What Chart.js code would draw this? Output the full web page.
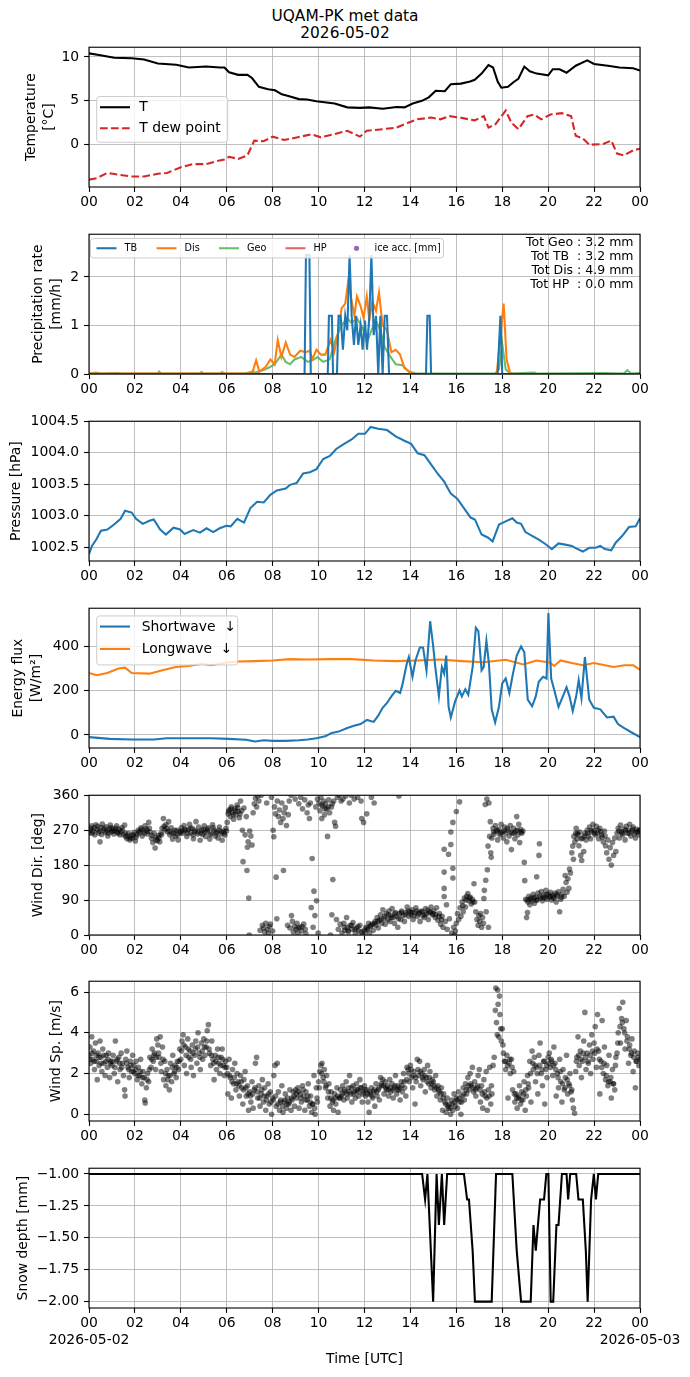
<!DOCTYPE html>
<html>
<head>
<meta charset="utf-8">
<script src="https://cdn.jsdelivr.net/npm/chart.js@4.4.1/dist/chart.umd.min.js"></script>
<style>
  body { margin: 0; background: #fff; width: 690px; height: 1377px; position: relative; overflow: hidden; font-family: 'DejaVu Sans', sans-serif; }
  #title { position: absolute; left: 0; top: 8px; width: 690px; text-align: center; font-size: 15.4px; line-height: 16.5px; color: #000; }
</style>
</head>
<body>
<div id="title">UQAM-PK met data<br>2026-05-02</div>
<script>
// hour of day (UTC) vs value
const hourTicks = [0, 2, 4, 6, 8, 10, 12, 14, 16, 18, 20, 22, 24];
const dayLabels = ['2026-05-02', '2026-05-03'];

const tempT = [[0,10.4],[0.5,10.2],[1.1,9.9],[1.86,9.85],[2.4,9.7],[3.0,9.26],[3.8,9.1],[4.35,8.8],[5.1,8.9],[5.7,8.8],[5.9,8.8],[6.1,8.26],[6.5,7.96],[6.9,7.96],[7.1,7.6],[7.4,6.6],[7.8,6.33],[8.1,6.2],[8.4,5.74],[8.76,5.5],[9.14,5.2],[9.5,5.15],[9.9,4.96],[10.7,4.7],[11.25,4.26],[11.8,4.2],[12.2,4.26],[12.8,4.1],[13.4,4.3],[13.74,4.26],[14.1,4.7],[14.5,5.0],[14.8,5.4],[15.1,6.15],[15.5,6.1],[15.76,6.9],[16.2,6.96],[16.6,7.2],[16.8,7.4],[17.1,8.1],[17.4,9.07],[17.6,8.8],[17.8,7.2],[17.96,6.5],[18.25,6.6],[18.5,7.15],[18.7,7.5],[18.96,8.9],[19.2,8.37],[19.5,8.1],[20.0,7.9],[20.2,8.6],[20.5,8.6],[20.8,8.2],[21.2,9.0],[21.7,9.6],[22.0,9.2],[22.6,9.0],[23.1,8.8],[23.7,8.7],[24,8.44]];
const tempTd = [[0,-3.96],[0.33,-3.8],[0.8,-3.2],[1.3,-3.4],[1.86,-3.6],[2.4,-3.6],[3.0,-3.3],[3.4,-3.2],[4.0,-2.55],[4.5,-2.2],[5.1,-2.2],[5.5,-1.9],[5.9,-1.67],[6.1,-1.37],[6.5,-1.6],[6.9,-1.2],[7.2,0.48],[7.6,0.4],[8.0,0.93],[8.5,0.55],[8.95,0.78],[9.7,1.2],[10.1,0.85],[10.7,1.22],[11.25,1.6],[11.8,0.93],[12.1,1.6],[12.8,1.78],[13.4,1.96],[13.74,2.33],[14.3,2.9],[14.9,3.1],[15.3,2.9],[15.7,3.26],[16.2,3.07],[16.8,2.78],[17.2,3.26],[17.4,1.96],[17.7,2.33],[18.15,3.9],[18.4,2.5],[18.7,1.78],[19.1,3.26],[19.4,3.44],[19.7,2.9],[20.1,3.44],[20.6,3.6],[21.0,3.26],[21.2,1.04],[21.5,0.74],[21.8,0],[22.4,0.1],[22.75,0.48],[23.0,-1.0],[23.3,-1.2],[23.7,-0.63],[24,-0.44]];

const precipTB = [[0,0],[9.39,0],[9.45,2.45],[9.6,2.45],[9.66,0],[10.4,0],[10.45,1.2],[10.58,1.2],[10.63,0],[10.8,0],[10.87,1.2],[10.96,1.2],[11.06,0.5],[11.16,1.2],[11.25,0.9],[11.35,2.45],[11.44,1.2],[11.54,0.6],[11.63,1.2],[11.73,0.6],[11.83,1.0],[11.92,0.5],[12.02,1.1],[12.11,0.5],[12.21,1.2],[12.3,2.45],[12.4,0.8],[12.5,1.2],[12.6,0],[12.69,1.2],[12.79,0],[12.88,1.2],[12.98,1.2],[13.07,0],[14.68,0],[14.74,1.2],[14.84,1.2],[14.9,0],[17.8,0],[17.92,1.2],[18.0,0],[24,0]];
const precipDis = [[0,0.01],[7.0,0.01],[7.13,0.05],[7.28,0.28],[7.42,0.05],[7.7,0.15],[7.9,0.3],[8.09,0.2],[8.22,0.7],[8.38,0.35],[8.57,0.65],[8.76,0.4],[8.95,0.35],[9.2,0.48],[9.43,0.45],[9.62,0.48],[9.72,0.3],[9.91,0.5],[10.1,0.4],[10.29,0.4],[10.52,0.7],[10.68,0.45],[10.87,0.9],[11.0,1.35],[11.16,1.45],[11.29,1.9],[11.44,1.5],[11.56,1.2],[11.67,1.6],[11.83,1.4],[11.96,1.15],[12.1,1.6],[12.21,1.1],[12.34,1.5],[12.5,1.3],[12.63,1.68],[12.79,1.0],[12.98,0.9],[13.17,0.45],[13.36,0.5],[13.55,0.4],[13.74,0.12],[14.03,0.02],[14.22,0.0],[17.7,0.0],[17.77,0.05],[17.92,0.8],[18.06,1.45],[18.19,0.3],[18.34,0.02],[18.5,0.0],[24,0.0]];
const precipGeo = [[0,0.01],[0.3,0.03],[0.5,0.01],[1.2,0.02],[1.4,0.01],[3.0,0.01],[3.05,0.05],[3.15,0.01],[4.8,0.01],[4.9,0.04],[5.0,0.01],[5.7,0.01],[5.8,0.04],[5.9,0.01],[6.8,0.01],[7.1,0.05],[7.25,0.03],[7.42,0.05],[7.7,0.1],[7.9,0.15],[8.09,0.2],[8.38,0.4],[8.57,0.25],[8.76,0.2],[8.95,0.3],[9.24,0.35],[9.53,0.25],[9.81,0.3],[9.95,0.35],[10.2,0.25],[10.48,0.3],[10.77,0.75],[11.0,1.0],[11.25,1.15],[11.44,1.05],[11.67,1.15],[11.92,0.95],[12.11,0.65],[12.3,0.9],[12.5,1.1],[12.69,0.9],[12.88,0.55],[13.07,0.4],[13.36,0.2],[13.65,0.18],[13.93,0.05],[14.22,0.01],[17.7,0.01],[17.86,0.1],[18.0,0.62],[18.15,0.1],[18.34,0.01],[19.4,0.03],[19.5,0.01],[22.4,0.02],[23.3,0.01],[23.45,0.08],[23.6,0.01],[24,0.02]];
const precipHP = [[0,0],[24,0]];
const precipIce = [];
const precipTotals = ['Tot Geo : 3.2 mm', 'Tot TB  : 3.2 mm', 'Tot Dis : 4.9 mm', 'Tot HP  : 0.0 mm'];

const pressure = [[0,1002.39],[0.13,1002.52],[0.33,1002.63],[0.52,1002.76],[0.8,1002.78],[1.09,1002.86],[1.38,1002.95],[1.57,1003.08],[1.86,1003.05],[2.05,1002.95],[2.34,1002.87],[2.63,1002.92],[2.82,1002.94],[3.1,1002.78],[3.35,1002.70],[3.68,1002.81],[3.97,1002.78],[4.16,1002.71],[4.54,1002.77],[4.83,1002.73],[5.12,1002.80],[5.41,1002.74],[5.69,1002.80],[5.98,1002.84],[6.17,1002.83],[6.46,1002.95],[6.75,1002.89],[7.03,1003.12],[7.32,1003.22],[7.61,1003.21],[7.9,1003.33],[8.18,1003.40],[8.57,1003.43],[8.76,1003.49],[9.05,1003.52],[9.33,1003.67],[9.62,1003.69],[9.91,1003.74],[10.2,1003.90],[10.49,1003.95],[10.77,1004.06],[11.06,1004.13],[11.44,1004.21],[11.73,1004.30],[12.02,1004.30],[12.27,1004.41],[12.59,1004.38],[12.98,1004.36],[13.36,1004.26],[13.74,1004.19],[14.03,1004.14],[14.32,1003.99],[14.61,1003.96],[14.89,1003.82],[15.18,1003.67],[15.47,1003.54],[15.76,1003.35],[16.04,1003.27],[16.33,1003.12],[16.62,1002.97],[16.81,1002.94],[17.1,1002.70],[17.39,1002.65],[17.58,1002.59],[17.86,1002.86],[18.15,1002.91],[18.44,1002.96],[18.63,1002.89],[18.82,1002.87],[19.01,1002.74],[19.3,1002.68],[19.59,1002.62],[19.88,1002.55],[20.16,1002.47],[20.45,1002.56],[20.74,1002.54],[21.03,1002.52],[21.22,1002.48],[21.51,1002.43],[21.79,1002.49],[22.08,1002.49],[22.27,1002.52],[22.47,1002.47],[22.75,1002.45],[22.94,1002.57],[23.23,1002.68],[23.52,1002.82],[23.81,1002.83],[24,1002.96]];

const shortwave = [[0,-10],[0.9,-18],[1.86,-21],[2.82,-21],[3.39,-15],[4.35,-15],[5.3,-15],[6.08,-18],[6.84,-22],[7.23,-30],[7.61,-24],[8.0,-27],[8.57,-27],[9.14,-24],[9.53,-21],[9.91,-15],[10.29,-6],[10.58,9],[10.87,15],[11.25,31],[11.54,41],[11.83,49],[12.11,68],[12.4,59],[12.59,86],[12.79,123],[12.98,145],[13.17,175],[13.36,200],[13.55,190],[13.65,227],[13.84,323],[13.93,353],[14.09,264],[14.22,338],[14.41,397],[14.55,397],[14.7,293],[14.86,516],[14.99,404],[15.09,301],[15.24,175],[15.37,308],[15.47,279],[15.56,360],[15.66,130],[15.76,79],[15.95,153],[16.14,201],[16.24,175],[16.39,207],[16.52,182],[16.71,308],[16.85,486],[16.96,471],[17.1,293],[17.19,308],[17.31,427],[17.42,323],[17.54,116],[17.69,56],[17.86,130],[18.0,234],[18.15,256],[18.31,190],[18.44,264],[18.63,360],[18.82,401],[18.96,375],[19.11,160],[19.3,130],[19.46,175],[19.59,241],[19.78,264],[19.93,256],[20.01,553],[20.13,256],[20.3,190],[20.45,127],[20.64,175],[20.8,216],[20.93,175],[21.07,108],[21.22,175],[21.33,249],[21.45,167],[21.6,353],[21.79,160],[21.99,123],[22.27,116],[22.56,79],[22.85,83],[23.04,49],[23.33,30],[23.62,12],[24,-10]];
const longwave = [[0,281],[0.33,271],[0.8,281],[1.28,301],[1.57,305],[1.86,281],[2.63,278],[3.2,293],[3.78,308],[4.35,313],[4.93,323],[5.31,316],[5.88,326],[6.46,333],[7.23,335],[8.0,338],[8.76,344],[9.53,342],[10.49,344],[11.44,344],[12.4,338],[13.36,335],[14.32,338],[15.28,342],[16.24,335],[17.19,330],[18.15,341],[18.92,320],[19.49,338],[20.07,329],[20.26,313],[20.54,338],[21.03,326],[21.51,316],[22.0,326],[22.47,316],[22.85,308],[23.33,316],[23.71,316],[24,296]];

const windDir = [[0.02,262],[0.08,275],[0.12,281],[0.18,268],[0.25,258],[0.3,284],[0.35,271],[0.42,263],[0.48,240],[0.52,277],[0.58,286],[0.63,270],[0.7,264],[0.75,279],[0.82,255],[0.88,272],[0.93,283],[0.98,266],
  [1.03,274],[1.08,260],[1.14,269],[1.2,281],[1.26,262],[1.31,272],[1.37,266],[1.43,277],[1.5,258],[1.55,283],[1.6,253],[1.66,248],[1.72,262],[1.78,245],[1.84,256],[1.9,250],[1.96,264],
  [2.02,242],[2.08,258],[2.14,270],[2.2,263],[2.26,276],[2.32,255],[2.38,268],[2.44,281],[2.5,273],[2.55,260],[2.6,290],[2.66,265],[2.72,249],[2.78,238],[2.84,262],[2.88,224],[2.94,251],[2.98,243],
  [3.03,256],[3.08,240],[3.13,262],[3.18,275],[3.24,300],[3.3,271],[3.35,284],[3.41,266],[3.47,292],[3.52,258],[3.58,276],[3.64,247],[3.7,262],[3.76,255],[3.82,270],[3.88,245],[3.94,267],
  [4.02,276],[4.08,262],[4.14,282],[4.2,269],[4.26,254],[4.32,271],[4.38,285],[4.44,263],[4.5,275],[4.55,248],[4.6,266],[4.66,292],[4.72,260],[4.78,278],[4.84,244],[4.9,270],[4.95,259],
  [5.02,281],[5.08,254],[5.14,268],[5.2,276],[5.26,247],[5.32,262],[5.38,284],[5.44,270],[5.5,255],[5.56,265],[5.62,250],[5.68,278],[5.74,260],[5.8,244],[5.86,268],[5.92,257],[5.97,275],
  [6.02,290],[6.06,312],[6.1,322],[6.15,305],[6.2,330],[6.25,316],[6.3,298],[6.35,325],[6.4,310],[6.45,335],[6.5,318],[6.55,302],[6.6,345],[6.65,320],[6.68,270],[6.71,189],[6.75,327],[6.8,258],[6.85,305],[6.88,166],[6.9,226],[6.93,240],[6.96,95],[6.98,0],[7.0,268],
  [7.05,255],[7.1,232],[7.15,315],[7.2,338],[7.25,352],[7.3,330],[7.35,358],[7.4,345],[7.45,12],[7.5,360],[7.55,25],[7.6,18],[7.65,8],[7.7,30],[7.74,340],[7.78,15],[7.82,5],[7.86,22],[7.9,28],[7.95,355],
  [8.0,10],[8.02,270],[8.05,253],[8.08,330],[8.12,312],[8.15,149],[8.18,42],[8.2,345],[8.25,305],[8.3,322],[8.35,290],[8.4,340],[8.45,300],[8.47,166],[8.5,315],[8.55,328],[8.6,282],[8.65,25],[8.68,310],[8.72,345],[8.75,18],[8.8,360],[8.82,50],[8.86,35],[8.9,8],[8.95,22],[8.98,350],
  [9.02,15],[9.06,30],[9.1,5],[9.14,338],[9.18,20],[9.22,355],[9.26,10],[9.3,325],[9.35,28],[9.4,348],[9.45,3],[9.5,315],[9.55,335],[9.6,300],[9.64,340],[9.68,71],[9.72,197],[9.76,20],[9.8,113],[9.84,50],[9.88,330],[9.91,88],[9.95,350],[9.98,5],
  [10.02,340],[10.06,320],[10.1,355],[10.14,300],[10.18,332],[10.22,345],[10.26,310],[10.3,338],[10.35,325],[10.39,254],[10.44,348],[10.48,315],[10.52,0],[10.56,330],[10.58,52],[10.62,143],[10.66,345],[10.7,290],[10.74,280],[10.78,40],[10.82,355],[10.86,15],[10.9,360],[10.94,28],[10.98,345],
  [11.02,5],[11.06,350],[11.1,30],[11.14,12],[11.18,358],[11.22,45],[11.26,20],[11.3,8],[11.34,340],[11.38,25],[11.42,360],[11.46,15],[11.5,32],[11.55,350],[11.6,5],[11.65,18],[11.7,355],[11.75,10],[11.8,25],[11.85,345],[11.88,300],[11.92,0],[11.96,290],[11.98,12],
  [12.02,8],[12.06,20],[12.1,312],[12.14,15],[12.18,30],[12.22,5],[12.26,22],[12.3,355],[12.34,28],[12.38,12],[12.42,340],[12.46,35],[12.5,25],[12.55,45],[12.6,18],[12.65,38],[12.7,52],[12.75,30],[12.8,65],[12.85,42],[12.9,28],[12.95,55],
  [13.02,40],[13.06,62],[13.1,35],[13.15,50],[13.2,68],[13.25,45],[13.3,30],[13.35,58],[13.4,48],[13.45,20],[13.5,358],[13.52,55],[13.58,40],[13.62,62],[13.68,50],[13.74,35],[13.8,58],[13.86,72],[13.92,48],[13.97,60],
  [14.02,52],[14.07,65],[14.12,40],[14.18,58],[14.24,70],[14.3,48],[14.36,55],[14.42,35],[14.48,62],[14.54,50],[14.6,45],[14.66,68],[14.72,55],[14.78,40],[14.84,60],[14.9,72],[14.96,52],
  [15.02,62],[15.08,45],[15.14,70],[15.2,38],[15.26,55],[15.32,28],[15.38,48],[15.42,20],[15.47,221],[15.47,162],[15.47,120],[15.47,99],[15.52,35],[15.57,78],[15.6,15],[15.66,208],[15.7,42],[15.76,233],[15.76,265],[15.8,5],[15.85,290],[15.85,172],[15.85,147],[15.88,20],[15.92,0],[15.96,10],[16.0,318],[16.0,30],
  [16.05,55],[16.1,40],[16.14,343],[16.16,70],[16.2,48],[16.25,85],[16.3,60],[16.35,95],[16.4,72],[16.45,100],[16.5,107],[16.55,88],[16.6,98],[16.65,80],[16.7,92],[16.77,132],[16.8,85],[16.85,60],[16.9,40],[16.95,25],[16.98,50],
  [17.02,35],[17.06,55],[17.1,20],[17.14,45],[17.18,30],[17.2,94],[17.22,115],[17.26,336],[17.28,141],[17.3,60],[17.33,350],[17.35,168],[17.38,229],[17.4,20],[17.42,340],[17.45,254],[17.48,292],[17.5,212],[17.52,200],[17.55,250],[17.6,275],[17.65,260],[17.7,282],[17.75,268],[17.8,245],[17.85,272],[17.9,258],[17.95,285],
  [18.0,265],[18.05,250],[18.1,278],[18.15,262],[18.2,240],[18.25,270],[18.3,255],[18.35,282],[18.4,220],[18.44,262],[18.5,275],[18.55,248],[18.6,268],[18.63,305],[18.68,258],[18.72,285],[18.76,238],[18.8,272],[18.85,262],[18.9,268],[18.96,187],[18.98,140],
  [19.02,92],[19.06,45],[19.1,58],[19.12,85],[19.16,100],[19.2,78],[19.25,95],[19.3,88],[19.35,105],[19.4,82],[19.45,98],[19.5,150],[19.52,90],[19.56,108],[19.6,205],[19.62,235],[19.66,95],[19.7,112],[19.75,88],[19.8,102],[19.85,96],[19.9,115],[19.95,92],
  [20.0,105],[20.05,98],[20.1,110],[20.15,90],[20.2,102],[20.25,95],[20.3,108],[20.35,85],[20.4,100],[20.45,111],[20.5,60],[20.55,92],[20.6,105],[20.65,118],[20.7,100],[20.74,153],[20.78,135],[20.82,110],[20.86,145],[20.9,120],[20.93,170],[20.97,160],
  [21.03,212],[21.07,229],[21.1,195],[21.12,254],[21.16,240],[21.2,262],[21.22,275],[21.26,248],[21.3,258],[21.34,230],[21.38,265],[21.42,205],[21.46,192],[21.5,250],[21.55,215],[21.6,262],[21.65,245],[21.7,270],[21.75,255],[21.8,278],[21.85,248],[21.9,265],[21.95,285],
  [22.0,270],[22.05,258],[22.1,280],[22.15,262],[22.2,248],[22.25,275],[22.3,266],[22.35,252],[22.4,240],[22.45,268],[22.5,230],[22.55,212],[22.6,245],[22.65,195],[22.7,225],[22.75,180],[22.8,238],[22.85,205],[22.9,250],[22.95,215],
  [23.0,262],[23.05,275],[23.1,250],[23.15,283],[23.2,266],[23.25,258],[23.3,272],[23.35,245],[23.4,280],[23.45,262],[23.5,270],[23.55,285],[23.6,255],[23.65,268],[23.7,278],[23.75,260],[23.8,250],[23.85,272],[23.9,265],[23.95,258],[24.0,270],
  [0.05,270],[0.15,262],[0.22,276],[0.38,280],[0.45,268],[0.55,259],[0.66,275],[0.78,268],[0.85,262],[0.95,276],
  [1.05,268],[1.17,275],[1.23,265],[1.34,258],[1.46,270],[1.58,262],[1.69,255],[1.81,249],[1.93,258],
  [2.05,252],[2.17,266],[2.29,272],[2.41,262],[2.53,268],[2.63,275],[2.75,256],[2.91,245],
  [3.05,250],[3.16,258],[3.27,280],[3.38,275],[3.5,268],[3.61,262],[3.73,270],[3.85,258],[3.97,262],
  [4.05,268],[4.17,272],[4.29,262],[4.41,275],[4.53,258],[4.63,270],[4.75,266],[4.87,262],[4.98,272],
  [5.05,265],[5.17,272],[5.29,258],[5.41,276],[5.53,262],[5.65,270],[5.77,266],[5.89,262],[5.99,268],
  [6.08,318],[6.18,325],[6.28,310],[6.38,320],[6.48,328],[6.58,312],
  [9.12,18],[9.28,22],[9.42,15],[10.12,335],[10.28,325],[10.42,330],[10.6,338],
  [11.12,20],[11.28,12],[11.44,25],[11.58,15],[11.72,22],[11.86,8],
  [12.12,18],[12.28,25],[12.44,30],[12.58,35],[12.72,40],[12.88,48],[13.04,52],[13.18,45],[13.32,55],[13.48,42],[13.6,58],[13.78,52],[13.9,62],[14.05,58],[14.15,50],[14.28,62],[14.4,58],[14.52,60],[14.64,52],[14.76,64],[14.88,58],[14.99,55],[15.1,52],[15.24,48],[15.35,40],
  [16.28,75],[16.42,90],[16.58,95],[16.72,85],
  [17.62,265],[17.78,270],[17.92,262],[18.08,268],[18.22,275],[18.38,265],[18.52,262],[18.66,270],[18.82,265],
  [19.08,90],[19.22,92],[19.38,96],[19.48,90],[19.64,100],[19.78,96],[19.92,104],[20.08,100],[20.22,98],[20.38,104],[20.58,98],
  [21.28,262],[21.44,248],[21.58,255],[21.72,262],[21.88,270],[22.02,262],[22.18,270],[22.32,258],[22.48,255],[23.08,268],[23.22,262],[23.38,270],[23.52,262],[23.68,272],[23.82,265],[23.96,270]];

const windSpeed = [[0.0,2.9],[0.04,3.3],[0.08,2.5],[0.12,3.8],[0.16,2.7],[0.2,3.1],[0.24,2.2],[0.28,3.5],[0.32,2.6],[0.36,1.7],[0.4,3.0],[0.44,2.4],[0.48,3.6],[0.52,2.8],[0.56,2.1],[0.6,3.2],[0.65,2.5],[0.7,1.9],[0.75,2.9],[0.8,2.3],[0.85,3.0],[0.9,1.8],[0.95,2.6],
  [1.0,2.4],[1.05,2.9],[1.1,2.0],[1.15,3.6],[1.2,2.6],[1.25,1.6],[1.3,2.8],[1.35,2.2],[1.4,3.0],[1.45,2.5],[1.5,1.9],[1.55,1.2],[1.57,0.9],[1.6,2.7],[1.65,3.1],[1.7,2.3],[1.75,1.8],[1.8,2.6],[1.85,2.1],[1.9,2.9],[1.95,2.4],
  [2.0,2.0],[2.05,2.6],[2.1,1.7],[2.15,2.3],[2.2,1.9],[2.25,2.7],[2.3,1.5],[2.35,2.1],[2.4,1.8],[2.43,0.7],[2.45,0.55],[2.5,1.3],[2.55,2.0],[2.6,1.6],[2.65,2.8],[2.7,2.3],[2.75,3.2],[2.8,2.6],[2.85,3.0],[2.9,2.2],[2.95,3.7],
  [3.0,3.4],[3.05,2.8],[3.1,3.8],[3.15,2.1],[3.2,3.3],[3.25,1.7],[3.3,2.6],[3.35,1.4],[3.4,2.2],[3.45,1.9],[3.5,1.2],[3.55,2.5],[3.6,1.6],[3.65,2.9],[3.7,2.0],[3.75,2.4],[3.8,1.8],[3.85,2.6],[3.9,2.2],[3.95,3.2],
  [4.0,2.7],[4.05,3.6],[4.1,3.9],[4.15,2.4],[4.2,3.3],[4.25,2.0],[4.3,3.7],[4.35,2.8],[4.4,3.1],[4.45,2.3],[4.5,3.4],[4.55,1.9],[4.6,2.9],[4.65,3.6],[4.7,2.5],[4.75,4.0],[4.8,3.0],[4.85,2.2],[4.9,3.5],[4.95,2.7],
  [5.0,3.7],[5.05,2.9],[5.1,3.3],[5.15,4.1],[5.2,4.4],[5.25,3.0],[5.3,2.4],[5.35,3.6],[5.4,2.7],[5.45,1.7],[5.5,2.9],[5.55,2.2],[5.6,3.2],[5.65,2.5],[5.7,2.0],[5.75,2.8],[5.8,3.2],[5.85,2.4],[5.9,1.9],[5.95,2.6],
  [6.0,2.3],[6.05,1.0],[6.1,2.7],[6.15,1.8],[6.2,0.8],[6.25,2.2],[6.3,1.5],[6.35,2.5],[6.4,1.2],[6.45,2.0],[6.5,1.6],[6.55,0.9],[6.6,1.9],[6.65,1.3],[6.7,0.5],[6.75,1.7],[6.8,2.1],[6.85,0.9],[6.9,1.4],[6.95,0.2],
  [7.0,1.1],[7.05,0.6],[7.1,1.6],[7.15,0.3],[7.2,1.2],[7.25,2.5],[7.3,2.8],[7.35,0.8],[7.4,1.4],[7.45,0.4],[7.5,1.0],[7.55,1.7],[7.6,0.6],[7.65,1.3],[7.7,0.2],[7.75,0.9],[7.8,1.5],[7.85,0.5],[7.9,1.1],[7.95,0.0],
  [8.0,0.8],[8.05,1.9],[8.1,2.4],[8.15,0.4],[8.2,2.5],[8.25,1.1],[8.3,0.2],[8.35,0.7],[8.4,1.4],[8.45,0.1],[8.5,0.6],[8.55,1.0],[8.6,0.3],[8.65,0.8],[8.7,0.5],[8.75,1.2],[8.8,0.2],[8.85,0.7],[8.9,1.1],[8.95,0.4],
  [9.0,1.2],[9.05,0.8],[9.1,1.3],[9.15,0.3],[9.2,1.0],[9.25,0.6],[9.3,1.4],[9.35,0.9],[9.4,0.2],[9.45,1.1],[9.5,0.7],[9.55,1.5],[9.6,0.4],[9.65,0.9],[9.7,0.1],[9.75,0.5],[9.8,1.9],[9.85,0.0],[9.9,1.3],[9.95,0.6],
  [10.0,1.6],[10.05,2.1],[10.1,2.4],[10.15,2.5],[10.2,1.8],[10.25,2.2],[10.3,1.3],[10.35,1.9],[10.4,0.8],[10.45,1.5],[10.5,0.4],[10.55,1.1],[10.6,0.6],[10.65,0.2],[10.7,1.0],[10.75,0.5],[10.8,1.3],[10.85,0.1],[10.9,0.8],[10.95,1.2],
  [11.0,0.9],[11.05,1.4],[11.1,0.7],[11.15,1.1],[11.2,1.6],[11.25,0.8],[11.3,1.3],[11.35,1.9],[11.4,1.0],[11.45,0.6],[11.5,1.4],[11.55,1.1],[11.6,0.8],[11.65,1.5],[11.7,1.2],[11.75,0.9],[11.8,1.7],[11.85,1.3],[11.9,0.6],[11.95,1.1],
  [12.0,1.4],[12.05,0.9],[12.1,1.2],[12.15,0.6],[12.2,0.1],[12.25,1.0],[12.3,1.3],[12.35,0.8],[12.4,1.1],[12.45,0.4],[12.5,1.5],[12.55,0.9],[12.6,1.2],[12.65,0.7],[12.7,1.8],[12.75,1.4],[12.8,1.7],[12.85,1.0],[12.9,1.6],[12.95,1.2],
  [13.0,1.4],[13.05,0.9],[13.1,1.7],[13.15,1.1],[13.2,1.5],[13.25,0.8],[13.3,1.3],[13.35,1.9],[13.4,1.0],[13.45,1.4],[13.5,1.2],[13.55,0.7],[13.6,1.6],[13.65,1.1],[13.7,2.0],[13.75,1.3],[13.8,0.9],[13.85,2.3],[13.9,2.2],[13.95,1.6],
  [14.0,2.4],[14.05,1.8],[14.1,1.3],[14.15,2.1],[14.2,0.5],[14.25,1.6],[14.3,2.7],[14.35,1.9],[14.4,2.6],[14.45,1.4],[14.5,2.0],[14.55,1.7],[14.6,2.2],[14.65,1.1],[14.7,1.8],[14.75,2.4],[14.8,1.5],[14.85,2.1],[14.9,1.3],[14.95,1.7],
  [15.0,1.6],[15.05,1.2],[15.1,1.9],[15.15,0.9],[15.2,1.4],[15.25,1.1],[15.3,0.7],[15.35,1.3],[15.4,0.2],[15.45,1.0],[15.5,0.6],[15.55,0.1],[15.6,0.8],[15.65,0.3],[15.7,0.5],[15.75,0.0],[15.8,0.7],[15.85,0.2],[15.9,1.0],[15.95,0.4],
  [16.0,0.8],[16.05,0.3],[16.1,1.1],[16.15,0.6],[16.2,0.0],[16.25,0.9],[16.3,1.3],[16.35,0.7],[16.4,1.5],[16.45,1.0],[16.5,1.8],[16.55,1.2],[16.6,2.0],[16.65,1.4],[16.7,2.3],[16.75,1.1],[16.8,1.6],[16.85,0.9],[16.9,1.3],[16.95,1.9],
  [17.0,2.2],[17.05,0.6],[17.1,1.4],[17.15,0.3],[17.2,1.7],[17.25,0.9],[17.3,2.1],[17.35,0.2],[17.4,1.2],[17.45,2.3],[17.5,0.5],[17.55,1.0],[17.6,2.4],[17.65,2.8],[17.7,5.1],[17.72,6.2],[17.75,4.5],[17.78,3.9],[17.8,6.1],[17.82,5.4],[17.85,3.8],[17.88,5.8],[17.9,4.9],[17.93,4.2],[17.96,3.6],
  [18.0,4.2],[18.05,3.0],[18.1,2.6],[18.15,2.2],[18.2,2.9],[18.25,0.8],[18.3,2.5],[18.35,2.0],[18.4,2.7],[18.45,1.2],[18.5,2.1],[18.55,0.6],[18.6,1.0],[18.65,0.3],[18.7,0.8],[18.75,1.4],[18.8,0.5],[18.85,1.1],[18.9,0.7],[18.95,1.6],
  [19.0,0.2],[19.05,0.9],[19.1,1.9],[19.15,1.3],[19.2,2.6],[19.25,0.6],[19.3,3.1],[19.35,2.2],[19.4,2.8],[19.45,1.6],[19.5,2.3],[19.55,1.0],[19.6,2.9],[19.65,3.5],[19.7,2.0],[19.75,1.4],[19.8,2.6],[19.85,0.5],[19.9,2.2],[19.95,1.8],
  [20.0,2.8],[20.05,3.0],[20.1,2.3],[20.15,2.6],[20.2,1.9],[20.25,3.3],[20.3,2.5],[20.35,0.9],[20.4,2.0],[20.45,1.3],[20.5,2.7],[20.55,1.6],[20.6,0.6],[20.65,2.2],[20.7,1.2],[20.75,1.8],[20.8,2.9],[20.85,1.0],[20.9,1.5],[20.95,2.0],
  [21.0,1.1],[21.05,0.7],[21.1,0.3],[21.15,0.05],[21.2,2.1],[21.25,2.8],[21.3,3.8],[21.35,2.4],[21.4,3.1],[21.45,1.8],[21.5,2.6],[21.55,3.6],[21.6,5.0],[21.65,2.2],[21.7,3.0],[21.75,2.5],[21.8,3.4],[21.85,2.0],[21.9,3.9],[21.95,2.7],
  [22.0,3.5],[22.05,4.3],[22.1,2.3],[22.15,4.9],[22.2,3.1],[22.25,1.0],[22.3,2.6],[22.35,4.6],[22.4,2.0],[22.45,3.3],[22.5,1.7],[22.55,2.4],[22.6,1.4],[22.65,2.9],[22.7,1.6],[22.75,0.8],[22.8,2.2],[22.85,1.5],[22.9,1.2],[22.95,2.8],
  [23.0,3.0],[23.05,4.0],[23.1,5.2],[23.15,3.5],[23.2,4.7],[23.25,5.5],[23.3,4.2],[23.35,3.2],[23.4,4.6],[23.45,3.8],[23.5,2.5],[23.55,3.4],[23.6,2.9],[23.65,3.7],[23.7,2.1],[23.75,3.1],[23.8,1.3],[23.85,2.6],[23.9,3.0],[23.95,2.4],[24.0,2.7],
  [0.03,2.7],[0.13,3.0],[0.23,2.6],[0.33,2.9],[0.43,2.8],[0.53,2.5],[0.63,2.9],[0.73,2.6],[0.83,2.7],[0.93,2.5],
  [1.03,2.6],[1.13,2.3],[1.23,2.7],[1.33,2.5],[1.43,2.3],[1.63,2.5],[1.73,2.2],[1.83,2.4],[1.93,2.1],
  [2.03,2.2],[2.13,1.9],[2.23,2.1],[2.33,1.8],[2.53,1.7],[2.63,2.2],[2.73,2.7],[2.83,2.9],[2.93,2.8],
  [3.03,3.0],[3.13,2.5],[3.23,2.7],[3.33,2.0],[3.43,1.7],[3.53,1.9],[3.63,2.3],[3.73,2.1],[3.83,2.3],[3.93,2.6],
  [4.03,3.1],[4.13,3.4],[4.23,2.9],[4.33,3.2],[4.43,2.7],[4.53,3.0],[4.63,3.2],[4.73,3.3],[4.83,2.8],[4.93,3.1],
  [5.03,3.3],[5.13,3.6],[5.23,3.2],[5.33,2.9],[5.43,2.5],[5.53,2.6],[5.63,2.8],[5.73,2.4],[5.83,2.7],[5.93,2.3],
  [6.03,2.0],[6.13,1.9],[6.23,1.6],[6.33,1.8],[6.43,1.5],[6.53,1.4],[6.63,1.6],[6.73,1.2],[6.83,1.3],[6.93,1.0],
  [7.03,0.9],[7.13,1.0],[7.23,1.3],[7.33,1.1],[7.43,0.8],[7.53,1.2],[7.63,0.9],[7.73,0.7],[7.83,1.0],[7.93,0.6],
  [8.03,0.7],[8.13,0.9],[8.23,0.5],[8.33,0.6],[8.43,0.4],[8.53,0.7],[8.63,0.5],[8.73,0.6],[8.83,0.8],[8.93,0.9],
  [9.03,1.0],[9.13,1.1],[9.23,0.8],[9.33,1.2],[9.43,0.7],[9.53,0.9],[9.63,0.6],[9.73,0.5],[9.83,0.3],[9.93,0.8],
  [10.03,1.3],[10.13,2.0],[10.23,1.6],[10.33,1.4],[10.43,1.1],[10.53,0.8],[10.63,0.7],[10.73,0.8],[10.83,0.9],[10.93,0.8],
  [11.03,1.0],[11.13,1.2],[11.23,1.0],[11.33,1.1],[11.43,1.3],[11.53,1.0],[11.63,1.2],[11.73,1.1],[11.83,1.3],[11.93,1.0],
  [12.03,1.2],[12.13,1.0],[12.23,1.1],[12.33,0.9],[12.43,1.2],[12.53,1.1],[12.63,1.3],[12.73,1.5],[12.83,1.4],[12.93,1.3],
  [13.03,1.2],[13.13,1.3],[13.23,1.2],[13.33,1.4],[13.43,1.2],[13.53,1.3],[13.63,1.4],[13.73,1.6],[13.83,1.7],[13.93,2.0],
  [14.03,2.2],[14.13,1.9],[14.23,1.8],[14.33,2.2],[14.43,2.1],[14.53,1.8],[14.63,1.9],[14.73,1.6],[14.83,1.8],[14.93,1.5],
  [15.03,1.4],[15.13,1.3],[15.23,1.2],[15.33,1.0],[15.43,0.8],[15.53,0.5],[15.63,0.4],[15.73,0.3],[15.83,0.5],[15.93,0.6],
  [16.03,0.7],[16.13,0.8],[16.23,0.6],[16.33,1.0],[16.43,1.2],[16.53,1.4],[16.63,1.5],[16.73,1.3],[16.83,1.2],[16.93,1.4],
  [17.03,1.2],[17.13,1.0],[17.23,1.1],[17.33,0.8],[17.43,0.9],[17.53,1.4],
  [18.03,3.4],[18.13,2.6],[18.23,2.4],[18.33,2.7],[18.43,2.3],[18.53,1.0],[18.63,0.8],[18.73,0.9],[18.83,0.7],[18.93,1.0],
  [19.03,1.2],[19.13,1.5],[19.23,2.0],[19.33,2.5],[19.43,2.4],[19.53,2.0],[19.63,2.4],[19.73,2.2],[19.83,2.6],[19.93,2.4],
  [20.03,2.5],[20.13,2.7],[20.23,2.4],[20.33,2.2],[20.43,1.8],[20.53,2.1],[20.63,1.5],[20.73,1.3],[20.83,1.7],[20.93,1.4],
  [21.03,1.2],[21.23,2.6],[21.33,2.9],[21.43,2.7],[21.53,3.0],[21.63,2.8],[21.73,2.6],[21.83,2.9],[21.93,3.1],
  [22.03,3.0],[22.13,3.2],[22.23,2.7],[22.33,2.3],[22.43,2.5],[22.53,1.9],[22.63,1.6],[22.73,1.8],[22.83,1.5],[22.93,2.4],
  [23.03,3.5],[23.13,4.3],[23.23,4.5],[23.33,4.0],[23.43,3.6],[23.53,3.2],[23.63,3.0],[23.73,2.8],[23.83,2.6],[23.93,2.8]];

const snowDepth = [[0,-1],[14.51,-1],[14.64,-1.2],[14.74,-1],[14.99,-2],[15.14,-1],[15.24,-1.4],[15.37,-1],[15.47,-1.4],[15.6,-1],[16.33,-1],[16.47,-1.2],[16.55,-1.2],[16.71,-1.6],[16.81,-2],[17.54,-2],[17.73,-1],[18.44,-1],[18.63,-1.6],[18.82,-2],[19.24,-2],[19.36,-1.4],[19.46,-1.6],[19.65,-1.2],[19.82,-1.2],[19.92,-1],[20.01,-1],[20.11,-2],[20.22,-2],[20.36,-1.4],[20.45,-1.4],[20.6,-1],[20.8,-1],[20.87,-1.2],[20.96,-1],[21.22,-1],[21.32,-1.2],[21.51,-1.2],[21.64,-1.6],[21.72,-2],[21.87,-1.2],[21.99,-1],[22.08,-1.2],[22.18,-1],[24,-1]];

// y tick values per panel
const tempTicks = [0, 5, 10];
const precipTicks = [0, 1, 2];
const pressureTicks = [1002.5, 1003.0, 1003.5, 1004.0, 1004.5];
const fluxTicks = [0, 200, 400];
const dirTicks = [0, 90, 180, 270, 360];
const speedTicks = [0, 2, 4, 6];
const snowTicks = [-2.0, -1.75, -1.5, -1.25, -1.0];

const FONT = "'DejaVu Sans', sans-serif";
const W = 690, AXIS_LEFT = 89, AXIS_RIGHT = 640, PLOT_H = 143, PAD_TOP = 10;
const panelTops = [44, 231, 418, 605, 792, 978, 1165];
const LW = 2.08;

const pts = arr => arr.map(([x, y]) => ({x, y}));
const hh = v => String(v % 24).padStart(2, '0');
const minus = s => s.replace('-', '\u2212');

const framePlugin = {
    id: 'frame',
    afterDatasetsDraw(chart) {
        const {ctx, chartArea: a} = chart;
        ctx.save();
        ctx.strokeStyle = '#000';
        ctx.lineWidth = 1.1;
        ctx.strokeRect(a.left, a.top, a.width, a.height);
        ctx.restore();
    }
};

// legend drawn inside the axes, like matplotlib's
const boxLegendPlugin = {
    id: 'boxLegend',
    afterDraw(chart, args, opts) {
        if (!opts.items) return;
        const {ctx, chartArea: a} = chart;
        const bx = a.left + opts.box[0], by = a.top + opts.box[1];
        ctx.save();
        ctx.beginPath();
        ctx.roundRect(bx, by, opts.box[2], opts.box[3], 3);
        ctx.fillStyle = 'rgba(255,255,255,0.8)';
        ctx.fill();
        ctx.strokeStyle = '#cccccc';
        ctx.lineWidth = 1;
        ctx.stroke();
        ctx.font = `${opts.size}px ${FONT}`;
        ctx.textBaseline = 'middle';
        opts.items.forEach(it => {
            const ds = chart.data.datasets[it.ds];
            const x = bx + it.dx, y = by + it.dy;
            if (ds.showLine === false) {
                ctx.beginPath();
                ctx.arc(x + opts.len / 2, y, 2.6, 0, Math.PI * 2);
                ctx.fillStyle = ds.backgroundColor;
                ctx.fill();
            } else {
                ctx.beginPath();
                ctx.setLineDash(ds.borderDash || []);
                ctx.strokeStyle = ds.borderColor;
                ctx.lineWidth = ds.borderWidth;
                ctx.moveTo(x, y);
                ctx.lineTo(x + opts.len, y);
                ctx.stroke();
                ctx.setLineDash([]);
            }
            ctx.fillStyle = '#000';
            ctx.fillText(ds.label, bx + it.tx, y + 0.5);
        });
        ctx.restore();
    }
};

const cornerTextPlugin = {
    id: 'cornerText',
    afterDraw(chart, args, opts) {
        if (!opts.lines) return;
        const {ctx, chartArea: a} = chart;
        ctx.save();
        ctx.font = `${opts.size}px ${FONT}`;
        ctx.fillStyle = '#000';
        ctx.textAlign = 'right';
        ctx.textBaseline = 'middle';
        opts.lines.forEach((t, i) => ctx.fillText(t, a.right - opts.dx, a.top + opts.dy + i * opts.gap));
        ctx.restore();
    }
};

const gridOpts = {color: '#b0b0b0', lineWidth: 0.8, tickLength: 4.9, tickColor: '#000', tickWidth: 1.1};

function xAxis(below, last) {
    const axis = {
        type: 'linear', min: 0, max: 24, bounds: 'data',
        afterBuildTicks: s => { s.ticks = hourTicks.map(v => ({value: v})); },
        afterFit: s => { s.height = below; },
        ticks: {
            font: {family: FONT, size: 13.9, lineHeight: 1.2}, color: '#000', padding: 2, maxRotation: 0, autoSkip: false,
            callback: v => {
                if (last && v === 0) return [hh(v), dayLabels[0]];
                if (last && v === 24) return [hh(v), dayLabels[1]];
                return hh(v);
            }
        },
        grid: gridOpts,
        border: {display: false}
    };
    if (last) {
        axis.title = {display: true, text: 'Time [UTC]', color: '#000', font: {family: FONT, size: 13.9, lineHeight: 1.2}, padding: {top: 0, bottom: 9.6}};
    }
    return axis;
}

function yAxis(y) {
    const lh = 13.9 * 1.27;
    return {
        type: 'linear', min: y.min, max: y.max, bounds: 'data',
        afterBuildTicks: s => { s.ticks = y.ticks.map(v => ({value: v})); },
        afterFit: s => { s.width = AXIS_LEFT; },
        ticks: {font: {family: FONT, size: 13.9}, color: '#000', padding: 4.9, callback: y.fmt || (v => minus(String(v)))},
        grid: gridOpts,
        border: {display: false},
        title: {display: true, text: y.title, color: '#000', font: {family: FONT, size: 13.9, lineHeight: 1.27}, padding: {top: y.titleX - lh / 2, bottom: 0}}
    };
}

function makeChart(idx, cfg) {
    const below = cfg.below || 30;
    const h = PAD_TOP + PLOT_H + below;
    const canvas = document.createElement('canvas');
    canvas.width = W;
    canvas.height = h;
    canvas.style.cssText = `position:absolute;left:0;top:${panelTops[idx] - PAD_TOP}px;width:${W}px;height:${h}px`;
    document.body.appendChild(canvas);
    return new Chart(canvas, {
        type: cfg.type || 'line',
        data: {datasets: cfg.datasets},
        options: {
            responsive: false,
            animation: false,
            layout: {padding: {top: PAD_TOP, left: 0, right: W - AXIS_RIGHT, bottom: 0}},
            elements: {line: {tension: 0}},
            plugins: {
                legend: {display: false},
                tooltip: {enabled: false},
                boxLegend: cfg.legend || {},
                cornerText: cfg.corner || {}
            },
            scales: {x: xAxis(below, cfg.last), y: yAxis(cfg.y)}
        },
        plugins: [framePlugin, boxLegendPlugin, cornerTextPlugin]
    });
}

const lineDs = (label, data, color, extra) => Object.assign({label, data: pts(data), borderColor: color, backgroundColor: color, borderWidth: LW, pointRadius: 0, fill: false}, extra || {});
const dotDs = (label, data) => ({label, data: pts(data), pointRadius: 2.8, pointBackgroundColor: 'rgba(0,0,0,0.5)', pointBorderWidth: 0, showLine: false});

makeChart(0, {
    datasets: [
        lineDs('T', tempT, '#000000'),
        lineDs('T dew point', tempTd, '#d62728', {borderDash: [7.7, 3.3]})
    ],
    y: {min: -4.8, max: 11.1, ticks: tempTicks, title: ['Temperature', '[°C]'], titleX: 31.7},
    legend: {box: [7.7, 49.3, 131, 45.7], size: 13.9, len: 30, items: [{ds: 0, dx: 3.3, dy: 10.7, tx: 42.6}, {ds: 1, dx: 3.3, dy: 31.7, tx: 42.6}]}
});

makeChart(1, {
    datasets: [
        lineDs('TB', precipTB, '#1f77b4'),
        lineDs('Dis', precipDis, '#ff7f0e'),
        lineDs('Geo', precipGeo, 'rgba(44,160,44,0.7)'),
        lineDs('HP', precipHP, 'rgba(214,39,40,0.7)'),
        {label: 'ice acc. [mm]', data: pts(precipIce), showLine: false, pointRadius: 2.6, backgroundColor: '#9467bd', pointBackgroundColor: '#9467bd', pointBorderWidth: 0}
    ],
    y: {min: 0, max: 2.88, ticks: precipTicks, title: ['Precipitation rate', '[mm/h]'], titleX: 38.7},
    legend: {box: [1.5, 4.3, 353, 19.4], size: 9.7, len: 20, items: [
        {ds: 0, dx: 6, dy: 9.7, tx: 34}, {ds: 1, dx: 66, dy: 9.7, tx: 94}, {ds: 2, dx: 128.5, dy: 9.7, tx: 156.5},
        {ds: 3, dx: 195, dy: 9.7, tx: 223}, {ds: 4, dx: 256, dy: 9.7, tx: 284}]},
    corner: {lines: precipTotals, size: 12.5, dx: 6.5, dy: 8.7, gap: 13.9}
});

makeChart(2, {
    datasets: [lineDs('Pressure', pressure, '#1f77b4')],
    y: {min: 1002.28, max: 1004.5, ticks: pressureTicks, fmt: v => v.toFixed(1), title: 'Pressure [hPa]', titleX: 16.3}
});

makeChart(3, {
    datasets: [
        lineDs('Shortwave  \u2193', shortwave, '#1f77b4'),
        lineDs('Longwave  \u2193', longwave, '#ff7f0e')
    ],
    y: {min: -59.5, max: 575, ticks: fluxTicks, title: ['Energy flux', '[W/m\u00b2]'], titleX: 18.5},
    legend: {box: [7.7, 7.7, 141, 49], size: 13.9, len: 30, items: [{ds: 0, dx: 3.3, dy: 10.6, tx: 45}, {ds: 1, dx: 3.3, dy: 33, tx: 45}]}
});

makeChart(4, {
    type: 'scatter',
    datasets: [dotDs('Wind Dir.', windDir)],
    y: {min: 0, max: 360, ticks: dirTicks, title: 'Wind Dir. [deg]', titleX: 38.7}
});

makeChart(5, {
    type: 'scatter',
    datasets: [dotDs('Wind Sp.', windSpeed)],
    y: {min: -0.33, max: 6.53, ticks: speedTicks, title: 'Wind Sp. [m/s]', titleX: 56.3}
});

makeChart(6, {
    datasets: [lineDs('Snow depth', snowDepth, '#000000')],
    y: {min: -2.05, max: -0.955, ticks: snowTicks, fmt: v => minus(v.toFixed(2)), title: 'Snow depth [mm]', titleX: 22.9},
    below: 69,
    last: true
});
</script>
</body>
</html>
